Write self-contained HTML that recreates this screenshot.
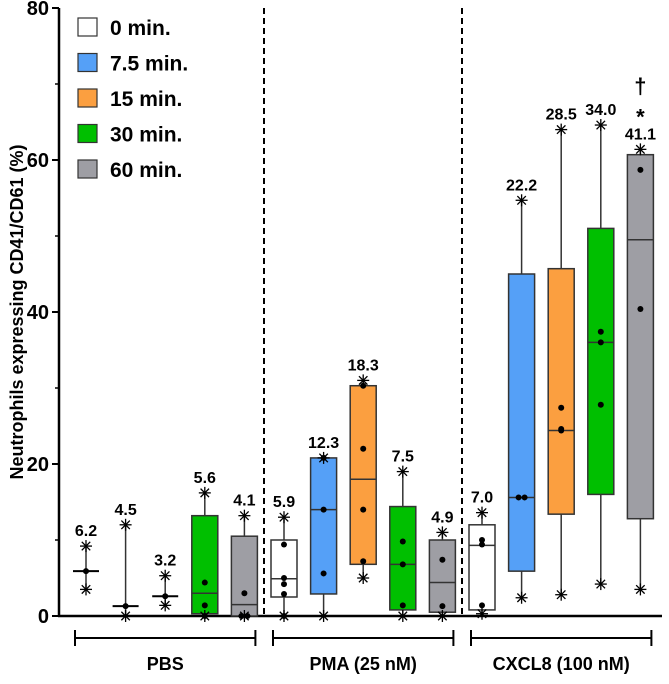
<!DOCTYPE html>
<html><head><meta charset="utf-8"><style>
body{margin:0;background:#fff}
svg text{font-family:"Liberation Sans",Arial,sans-serif;font-weight:bold}
</style></head><body>
<svg id="c" width="669" height="679" viewBox="0 0 669 679" xmlns="http://www.w3.org/2000/svg"></svg>
<script>
const categories=["PBS 0","PBS 7.5","PBS 15","PBS 30","PBS 60","PMA 0","PMA 7.5","PMA 15","PMA 30","PMA 60","CXCL8 0","CXCL8 7.5","CXCL8 15","CXCL8 30","CXCL8 60"];
const timeIdx=[0,1,2,3,4,0,1,2,3,4,0,1,2,3,4];
const q1=[null,null,null,0.3,0,2.5,2.9,6.8,0.8,0.5,0.8,5.9,13.4,16,12.8];
const q3=[null,null,null,13.2,10.5,10,20.8,30.3,14.4,10,12,45,45.7,51,60.7];
const medians=[5.9,1.3,2.6,3,1.5,4.9,14,18,6.8,4.4,9.3,15.6,24.4,36,49.5];
const whiskerHi=[9.2,12,5.3,16.2,13.2,13,20.8,31,19,11,13.6,54.7,64,64.6,61.4];
const whiskerLo=[3.5,0,1.4,0,0,0,0,5,0,0,0.3,2.4,2.8,4.2,3.5];
const points=[[5.9],[1.3],[2.6],[4.4,1.4,0],[3,0,0],[9.4,5,4.2,2.9,0],[20.8,14,5.6],[30.3,22,14,7.2],[9.8,6.8,1.4],[7.4,1.3],[10,9.4,1.4],[15.6,15.6],[27.4,24.6,24.4],[37.4,36,27.8],[58.7,40.4]];
const valueLabels=["6.2","4.5","3.2","5.6","4.1","5.9","12.3","18.3","7.5","4.9","7.0","22.2","28.5","34.0","41.1"];
const yTicks=[0,20,40,60,80];
const yMinor=[10,30,50,70];
const legendLabels=["0 min.","7.5 min.","15 min.","30 min.","60 min."];
const colors=["#ffffff","#55a0f7","#fb9f40","#00bf00","#9e9ea4"];
const groups=["PBS","PMA (25 nM)","CXCL8 (100 nM)"];

const svg=document.getElementById('c');const NS="http://www.w3.org/2000/svg";
function el(t,a,p){const e=document.createElementNS(NS,t);for(const k in a)e.setAttribute(k,a[k]);(p||svg).appendChild(e);return e;}
const y=v=>616-v*7.6;
const x=i=>86+i*39.6;
const BW=26;
let ax=el('line',{x1:59,y1:y(80),x2:59,y2:617,stroke:'#000','stroke-width':2.5});

let bx=el('line',{x1:58,y1:616,x2:662,y2:616,stroke:'#000','stroke-width':2.5});

yTicks.forEach(v=>{el('line',{x1:52,y1:y(v),x2:59,y2:y(v),stroke:'#000','stroke-width':2});
 const t=el('text',{x:49,y:y(v)+7,'text-anchor':'end','font-size':20});t.textContent=v;
 });
yMinor.forEach(v=>el('line',{x1:55,y1:y(v),x2:59,y2:y(v),stroke:'#000','stroke-width':1.5}));
let yt=el('text',{x:0,y:0,transform:'translate(23,312) rotate(-90)','text-anchor':'middle','font-size':18});
yt.textContent='Neutrophils expressing CD41/CD61 (%)';
[264,462].forEach(px=>{const d=el('line',{x1:px,y1:8,x2:px,y2:616,stroke:'#000','stroke-width':2,'stroke-dasharray':'6,4'});
 });
function star(cx,cy){const g=el('g',{stroke:'#000','stroke-width':1.3});
 for(let a=0;a<4;a++){const r=a*Math.PI/4;el('line',{x1:cx-6*Math.cos(r),y1:cy-6*Math.sin(r),x2:cx+6*Math.cos(r),y2:cy+6*Math.sin(r)},g);}}
categories.forEach((c,i)=>{
 const g=el('g',{});
 const cx=x(i);
 el('line',{x1:cx,y1:y(whiskerHi[i]),x2:cx,y2:y(whiskerLo[i]),stroke:'#333','stroke-width':1.5},g);
 if(q1[i]!==null){
  el('rect',{x:cx-BW/2,y:y(q3[i]),width:BW,height:y(q1[i])-y(q3[i]),fill:colors[timeIdx[i]],stroke:'#333','stroke-width':1.5},g);
  el('line',{x1:cx-BW/2,y1:y(medians[i]),x2:cx+BW/2,y2:y(medians[i]),stroke:'#333','stroke-width':1.5},g);
 } else {
  el('line',{x1:cx-13,y1:y(medians[i]),x2:cx+13,y2:y(medians[i]),stroke:'#000','stroke-width':2},g);
 }
 star(cx,y(whiskerHi[i]));star(cx,y(whiskerLo[i]));
 points[i].forEach((p,k)=>el('circle',{cx:cx+(points[i].length>1&&points[i].filter(q=>q===p).length>1?(k%2?3:-3):0),cy:y(p),r:3,fill:'#000'},g));
 const t=el('text',{x:cx,y:y(whiskerHi[i])-10,'text-anchor':'middle','font-size':16});t.textContent=valueLabels[i];
 
});
let s1=el('text',{x:x(14),y:y(61.4)-25,'text-anchor':'middle','font-size':22});s1.textContent='*';

let s2=el('text',{x:x(14),y:y(61.4)-56,'text-anchor':'middle','font-size':22,'font-weight':'normal'});s2.textContent='†';

groups.forEach((gname,k)=>{const x1=x(k*5)-11,x2=x(k*5+4)+11;
 const g=el('g',{stroke:'#000','stroke-width':2});
 el('line',{x1:x1,y1:638,x2:x2,y2:638},g);el('line',{x1:x1,y1:630,x2:x1,y2:646},g);el('line',{x1:x2,y1:630,x2:x2,y2:646},g);
 const t=el('text',{x:(x1+x2)/2,y:670,'text-anchor':'middle','font-size':18});t.textContent=gname;
 });
legendLabels.forEach((l,k)=>{const g=el('g',{});
 const cy=27+k*35.5;
 el('rect',{x:78,y:cy-9,width:19,height:18,fill:colors[k],stroke:'#333','stroke-width':1.2},g);
 const t=el('text',{x:110,y:cy+8,'font-size':21},g);t.textContent=l;});
</script>
</body></html>
